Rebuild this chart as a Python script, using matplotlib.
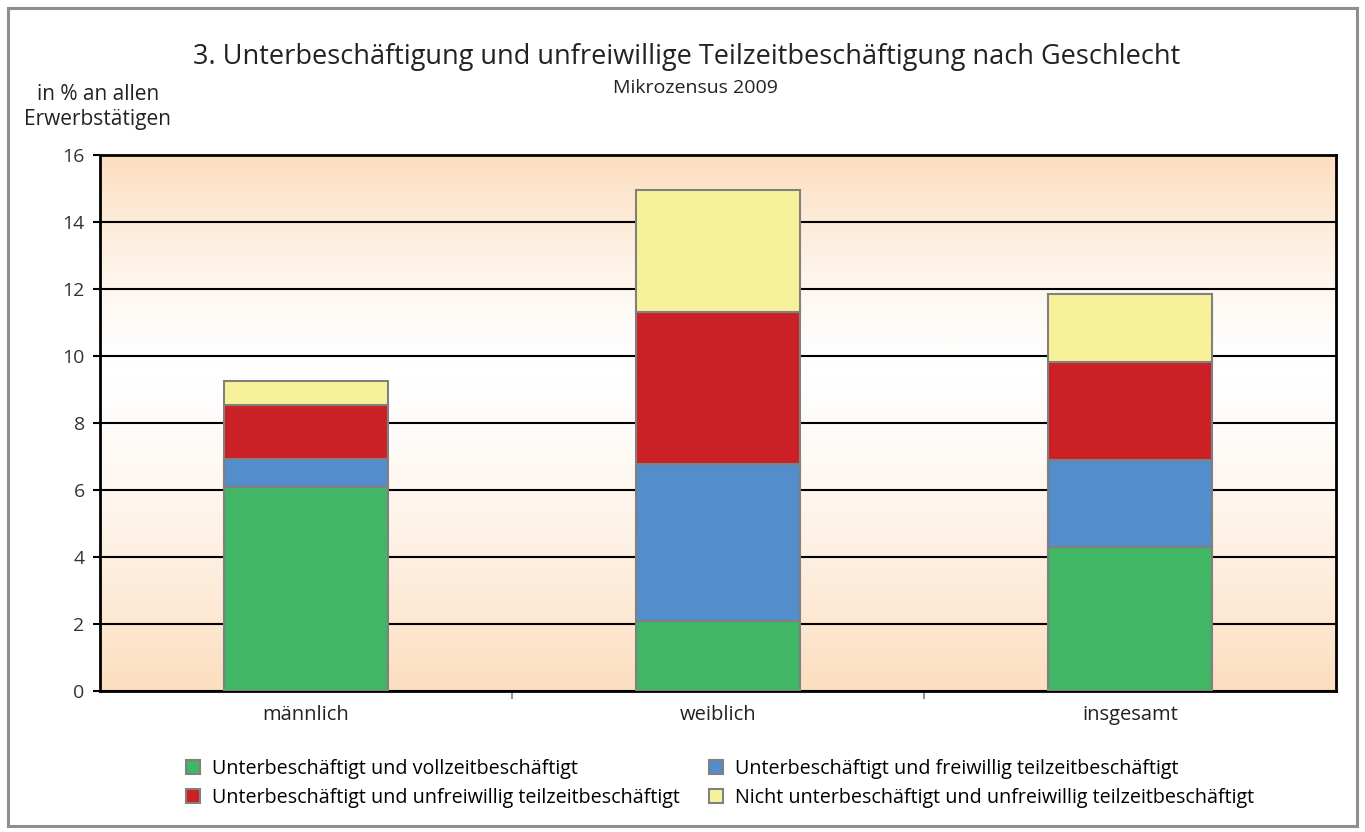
import numpy as np
import matplotlib.pyplot as plt
from matplotlib.patches import Rectangle
from matplotlib.colors import LinearSegmentedColormap

plt.rcParams['font.family'] = ['Open Sans', 'DejaVu Sans']

categories = ["männlich", "weiblich", "insgesamt"]
series_names = [
    "Unterbeschäftigt und vollzeitbeschäftigt",
    "Unterbeschäftigt und freiwillig teilzeitbeschäftigt",
    "Unterbeschäftigt und unfreiwillig teilzeitbeschäftigt",
    "Nicht unterbeschäftigt und unfreiwillig teilzeitbeschäftigt",
]
vollzeit = [6.10, 2.09, 4.30]
freiwillig_tz = [0.84, 4.69, 2.59]
unfreiwillig_tz = [1.60, 4.53, 2.92]
nicht_unterb = [0.72, 3.64, 2.03]
colors = ["#41b765", "#548dcb", "#cc2027", "#f7f29a"]

W, H = 1365, 832
fig = plt.figure(figsize=(W / 100, H / 100), dpi=100)
fig.patches.append(Rectangle((8 / W, 6 / H), 1349 / W, 818 / H, transform=fig.transFigure,
                             fill=False, edgecolor="#8f8f8f", linewidth=2.2))

ax = fig.add_axes([100 / W, 1 - 691 / H, 1236 / W, 536 / H])

# gradient background: peach at top and bottom, white around the middle
peach = (0.99, 0.87, 0.75)
yy = np.linspace(0, 16, 400)
grad = np.where(yy > 9.6, (yy - 9.6) / 6.4, (9.6 - yy) / 9.6) ** 1.4
ax.imshow(grad.reshape(-1, 1), extent=[-0.5, 2.5, 0, 16], origin="lower", aspect="auto",
          cmap=LinearSegmentedColormap.from_list("bg", ["white", peach]), vmin=0, vmax=1, zorder=0)

x = np.arange(len(categories))
bottom = np.zeros(len(categories))
bars = []
for name, vals, c in zip(series_names, [vollzeit, freiwillig_tz, unfreiwillig_tz, nicht_unterb], colors):
    b = ax.bar(x, vals, 0.4, bottom=bottom, color=c, edgecolor="#808080", linewidth=1.5, label=name, zorder=3)
    bars.append(b)
    bottom += np.array(vals)

ax.set_xlim(-0.5, 2.5)
ax.set_ylim(0, 16)
ax.set_yticks(range(0, 17, 2))
ax.yaxis.grid(True, color="black", linewidth=1.5, zorder=1)
ax.set_axisbelow(True)
ax.set_xticks(x)
ax.set_xticklabels(categories, fontsize=14.5, color="#222222")
ax.set_xticks([0.5, 1.5], minor=True)
ax.tick_params(axis="x", which="major", length=0, pad=10)
ax.tick_params(axis="x", which="minor", length=6, width=1.2, color="#808080")
ax.tick_params(axis="y", labelsize=14, labelcolor="#333333", length=5, width=1.5, pad=6)
for s in ax.spines.values():
    s.set_linewidth(2)
    s.set_color("black")

fig.text(687 / W, 1 - 57 / H, "3. Unterbeschäftigung und unfreiwillige Teilzeitbeschäftigung nach Geschlecht",
         ha="center", va="center", fontsize=19.5, color="#222222")
fig.text(695 / W, 1 - 88 / H, "Mikrozensus 2009", ha="center", va="center", fontsize=14, color="#222222")
fig.text(98 / W, 1 - 107 / H, "in % an allen\nErwerbstätigen", ha="center", va="center",
         fontsize=15, color="#222222", linespacing=1.25)

leg_kw = dict(loc="upper left", frameon=False, fontsize=14.2, handlelength=0.72, handleheight=0.72,
              labelspacing=0.47, handletextpad=0.6, borderpad=0, borderaxespad=0)
for col, (i, j) in zip([186, 709], [(0, 2), (1, 3)]):
    fig.legend([bars[i], bars[j]], [series_names[i], series_names[j]],
               bbox_to_anchor=(col / W, 1 - 759 / H), **leg_kw)

fig.savefig("out.png", dpi=100)
